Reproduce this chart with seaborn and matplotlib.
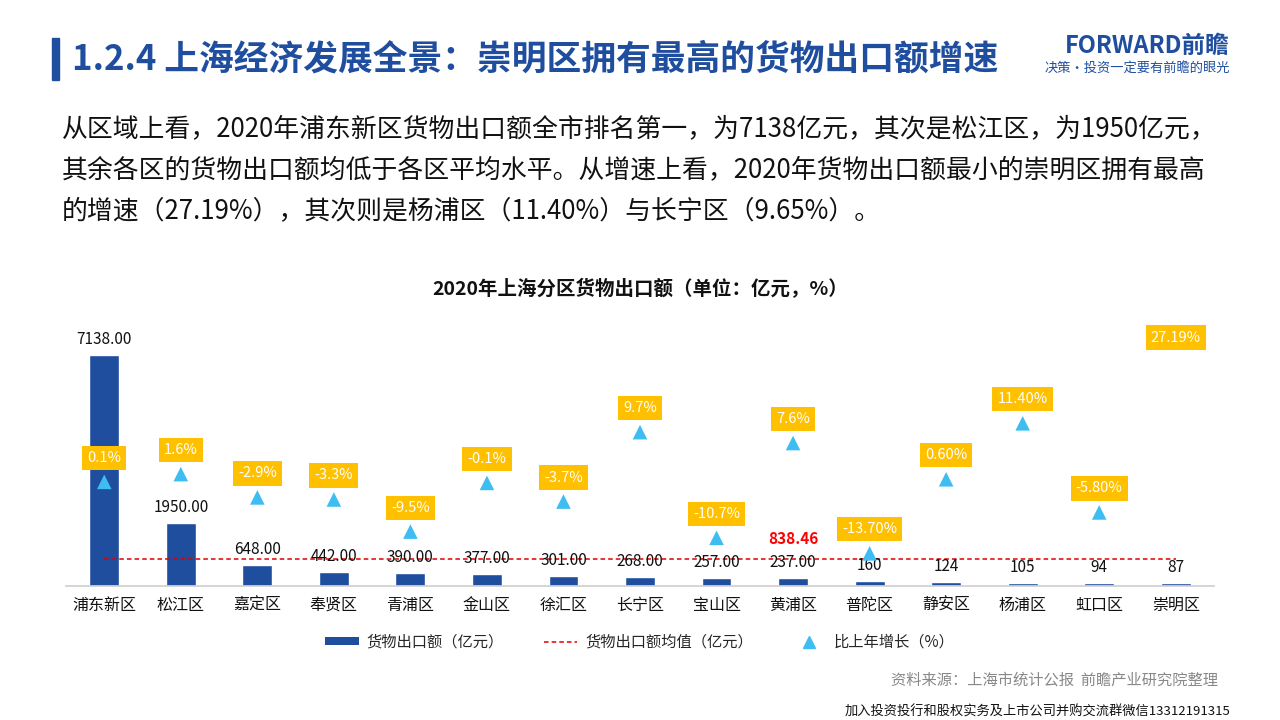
import numpy as np
import matplotlib
matplotlib.use("Agg")
import matplotlib.pyplot as plt
import seaborn as sns
from matplotlib.patches import Rectangle, Patch
from matplotlib.lines import Line2D

sns.set_theme(style="white")
plt.rcParams['font.family'] = ['Noto Sans CJK SC', 'DejaVu Sans']
plt.rcParams['axes.unicode_minus'] = False

# ---------------- data ----------------
districts = ["浦东新区", "松江区", "嘉定区", "奉贤区", "青浦区", "金山区", "徐汇区", "长宁区",
             "宝山区", "黄浦区", "普陀区", "静安区", "杨浦区", "虹口区", "崇明区"]
exports = [7138, 1950, 648, 442, 390, 377, 301, 268, 257, 237, 160, 124, 105, 94, 87]
export_labels = ["7138.00", "1950.00", "648.00", "442.00", "390.00", "377.00", "301.00",
                 "268.00", "257.00", "237.00", "160", "124", "105", "94", "87"]
growth = [0.1, 1.6, -2.9, -3.3, -9.5, -0.1, -3.7, 9.7, -10.7, 7.6, -13.7, 0.6, 11.4, -5.8, 27.19]
growth_labels = ["0.1%", "1.6%", "-2.9%", "-3.3%", "-9.5%", "-0.1%", "-3.7%", "9.7%", "-10.7%",
                 "7.6%", "-13.70%", "0.60%", "11.40%", "-5.80%", "27.19%"]
mean_value = 838.46
mean_label = "838.46"

BLUE = "#1F4E9F"
TRI = "#3DBDF2"
GOLD = "#FFC000"

fig = plt.figure(figsize=(12.8, 7.2), dpi=100)
fig.patch.set_facecolor("white")

# ---------------- header ----------------
fig.patches.append(Rectangle((52 / 1280, 1 - 80 / 720), 7 / 1280, 42 / 720,
                             transform=fig.transFigure, color=BLUE))
fig.text(72 / 1280, 1 - 59 / 720, "1.2.4 上海经济发展全景：崇明区拥有最高的货物出口额增速",
         fontsize=25, fontweight="bold", color=BLUE, va="center", ha="left")
fig.text(1230 / 1280, 1 - 46 / 720, "FORWARD前瞻", fontsize=17, fontweight="bold",
         color=BLUE, va="center", ha="right")
fig.text(1230 / 1280, 1 - 68 / 720, "决策·投资一定要有前瞻的眼光", fontsize=9.5,
         color=BLUE, va="center", ha="right")

body = ["从区域上看，2020年浦东新区货物出口额全市排名第一，为7138亿元，其次是松江区，为1950亿元，",
        "其余各区的货物出口额均低于各区平均水平。从增速上看，2020年货物出口额最小的崇明区拥有最高",
        "的增速（27.19%），其次则是杨浦区（11.40%）与长宁区（9.65%）。"]
for i, line in enumerate(body):
    fig.text(62 / 1280, 1 - (129 + i * 41) / 720, line, fontsize=18.6, color="#111111",
             va="center", ha="left")

fig.text(0.5, 1 - 289 / 720, "2020年上海分区货物出口额（单位：亿元，%）", fontsize=14,
         fontweight="bold", color="#111111", ha="center", va="center")

# ---------------- chart ----------------
ax = fig.add_axes([66 / 1280, 1 - 586 / 720, 1148 / 1280, 259 / 720])
x = np.arange(len(districts))
sns.barplot(x=districts, y=exports, color=BLUE, width=0.39, saturation=1, ax=ax)
ax.set_xlim(-0.5, len(districts) - 0.5)
ax.set_ylim(0, 8000)
ax.plot(x, [mean_value] * len(districts), ls=(0, (3, 2)), color="#E00000", lw=1.1, zorder=3)

for xi, v, lab in zip(x, exports, export_labels):
    ax.annotate(lab, (xi, v), xytext=(0, 7), textcoords="offset pixels", ha="center",
                va="bottom", fontsize=11, color="#111111", zorder=4)
ax.annotate(mean_label, (9, mean_value), xytext=(0, 12), textcoords="offset pixels",
            ha="center", va="bottom", fontsize=11, fontweight="bold", color="#FF0000")

for s in ["top", "right", "left"]:
    ax.spines[s].set_visible(False)
ax.spines["bottom"].set_color("#D0D0D0")
ax.set_yticks([])
ax.set_ylabel("")
ax.tick_params(axis="x", length=0, labelsize=11.5, pad=8, colors="#111111")

ax2 = ax.twinx()
sns.scatterplot(x=x, y=growth, marker="^", s=110, color=TRI, edgecolor="none", ax=ax2, zorder=5)
ax2.set_ylim(-20, 30)
ax2.set_xlim(-0.5, len(districts) - 0.5)
ax2.axis("off")
offsets = [24] * (len(growth) - 1) + [4]
for xi, g, lab, off in zip(x, growth, growth_labels, offsets):
    ax2.annotate(lab, (xi, g), xytext=(0, off), textcoords="offset pixels", ha="center",
                 va="center", fontsize=10.5, color="white", zorder=6,
                 bbox=dict(boxstyle="square,pad=0.35", fc=GOLD, ec="none"))

# ---------------- legend ----------------
handles = [Patch(facecolor=BLUE, edgecolor="none"),
           Line2D([0], [0], color="#E00000", ls=(0, (3, 2)), lw=1.1),
           Line2D([0], [0], color=TRI, marker="^", ls="none", markersize=8)]
labels = ["货物出口额（亿元）", "货物出口额均值（亿元）", "比上年增长（%）"]
fig.legend(handles, labels, loc="center", bbox_to_anchor=(0.5, 1 - 642 / 720), ncol=3,
           frameon=False, fontsize=11, handlelength=2.2, columnspacing=2.6, handleheight=0.5,
           handletextpad=0.5)

# ---------------- footer ----------------
fig.text(1218 / 1280, 1 - 680 / 720, "资料来源：上海市统计公报  前瞻产业研究院整理",
         fontsize=11, color="#888888", ha="right", va="center")
fig.text(1230 / 1280, 1 - 712 / 720, "加入投资投行和股权实务及上市公司并购交流群微信13312191315",
         fontsize=9.5, color="#111111", ha="right", va="center")

fig.savefig("out.png", dpi=100)
